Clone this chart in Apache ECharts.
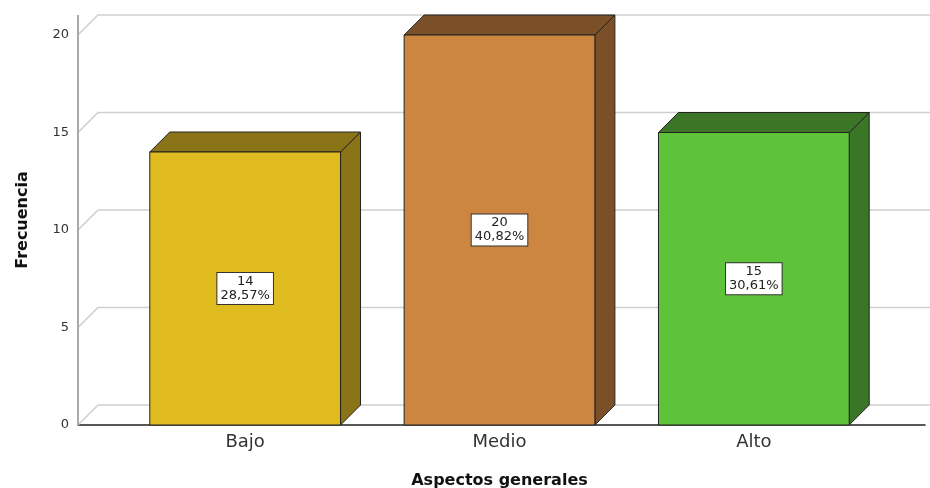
<!DOCTYPE html>
<html>
<head>
<meta charset="utf-8">
<script src="https://cdn.jsdelivr.net/npm/echarts@6/dist/echarts.min.js"></script>
<style>
  html, body { margin: 0; padding: 0; background: #fff; }
  #chart { width: 930px; height: 488px; }
</style>
</head>
<body>
<div id="chart"></div>
<script>
const categories = ['Bajo', 'Medio', 'Alto']
const frecuencias = [14, 20, 15]
const yTicks = [0, 5, 10, 15, 20]
const frontColors = ['#e0bb20', '#cc8640', '#5ec23a']
const darkColors = ['#8b7418', '#7b5028', '#3b7626']

const total = frecuencias.reduce((a, b) => a + b, 0)
const DEPTH = 20
const FONT = '"DejaVu Sans", Verdana, sans-serif'

const chart = echarts.init(document.getElementById('chart'))

// back wall lines, one per y tick, plus the left axis line
function renderFrame(params, api) {
  const v = api.value(0)
  const p0 = api.coord([0, v])
  const p1 = api.coord([1, v])
  const lineStyle = { stroke: '#cfcfcf', lineWidth: 1.5, fill: null }
  const children = [{
    type: 'polyline',
    shape: { points: [[p0[0], p0[1]], [p0[0] + DEPTH, p0[1] - DEPTH], [p1[0] + DEPTH, p1[1] - DEPTH]] },
    style: lineStyle
  }]
  if (params.dataIndex === 0) {
    const top = api.coord([0, yTicks[yTicks.length - 1]])
    children.push({
      type: 'line',
      shape: { x1: p0[0], y1: p0[1], x2: p0[0], y2: top[1] - DEPTH },
      style: { stroke: '#aaaaaa', lineWidth: 2 },
      z2: 5
    })
  }
  return { type: 'group', children }
}

function renderBar(params, api) {
  const i = params.dataIndex
  const val = api.value(1)
  const top = api.coord([api.value(0), val])
  const base = api.coord([api.value(0), 0])
  const half = api.size([1, 0])[0] * 0.75 / 2
  const x0 = top[0] - half, x1 = top[0] + half
  const yt = top[1], yb = base[1]
  const edge = { stroke: '#222', lineWidth: 1 }
  const pct = (val / total * 100).toFixed(2).replace('.', ',') + '%'
  return {
    type: 'group',
    children: [
      {
        type: 'polygon',
        shape: { points: [[x1, yt], [x1 + DEPTH, yt - DEPTH], [x1 + DEPTH, yb - DEPTH], [x1, yb]] },
        style: Object.assign({ fill: darkColors[i] }, edge)
      },
      {
        type: 'polygon',
        shape: { points: [[x0, yt], [x0 + DEPTH, yt - DEPTH], [x1 + DEPTH, yt - DEPTH], [x1, yt]] },
        style: Object.assign({ fill: darkColors[i] }, edge)
      },
      {
        type: 'rect',
        shape: { x: x0, y: yt, width: x1 - x0, height: yb - yt },
        style: Object.assign({ fill: frontColors[i] }, edge)
      },
      {
        type: 'text',
        x: top[0],
        y: (yt + yb) / 2,
        style: {
          text: val + '\n' + pct,
          fill: '#222',
          font: '13px ' + FONT,
          lineHeight: 14,
          align: 'center',
          verticalAlign: 'middle',
          backgroundColor: '#fff',
          borderColor: '#333',
          borderWidth: 1,
          padding: [2, 3, 1, 3]
        },
        z2: 10
      }
    ]
  }
}

const option = {
  animation: false,
  backgroundColor: '#fff',
  grid: [
    { left: 78, right: 5, top: 35, bottom: 63, outerBoundsMode: 'none' },
    { left: 118, right: 49, top: 35, bottom: 63, outerBoundsMode: 'none' }
  ],
  xAxis: [
    {
      type: 'value', gridIndex: 0, min: 0, max: 1,
      axisLine: { show: true, lineStyle: { color: '#222', width: 1.5 } },
      axisTick: { show: false }, axisLabel: { show: false }, splitLine: { show: false }
    },
    {
      type: 'category', gridIndex: 1, data: categories,
      axisLine: { show: false }, axisTick: { show: false }, splitLine: { show: false },
      axisLabel: { color: '#333', fontSize: 18, fontFamily: FONT, margin: 8 },
      name: 'Aspectos generales', nameLocation: 'middle', nameGap: 48,
      nameTextStyle: { color: '#111', fontSize: 16, fontWeight: 'bold', fontFamily: FONT }
    }
  ],
  yAxis: [
    {
      type: 'value', gridIndex: 0, min: 0, max: 20, interval: 5,
      axisLine: { show: false }, axisTick: { show: false }, splitLine: { show: false },
      axisLabel: { color: '#333', fontSize: 13, fontFamily: FONT, margin: 9 },
      name: 'Frecuencia', nameLocation: 'middle', nameGap: 47,
      nameTextStyle: { color: '#111', fontSize: 16, fontWeight: 'bold', fontFamily: FONT, padding: [0, 0, 0, 20] }
    },
    {
      type: 'value', gridIndex: 1, min: 0, max: 20, interval: 5, show: false
    }
  ],
  series: [
    {
      type: 'custom', xAxisIndex: 0, yAxisIndex: 0,
      data: yTicks.map(v => [v]),
      renderItem: renderFrame,
      silent: true, z: 1
    },
    {
      type: 'custom', xAxisIndex: 1, yAxisIndex: 1,
      data: frecuencias.map((v, i) => [i, v]),
      renderItem: renderBar,
      z: 3
    }
  ]
}

chart.setOption(option)
</script>
</body>
</html>
